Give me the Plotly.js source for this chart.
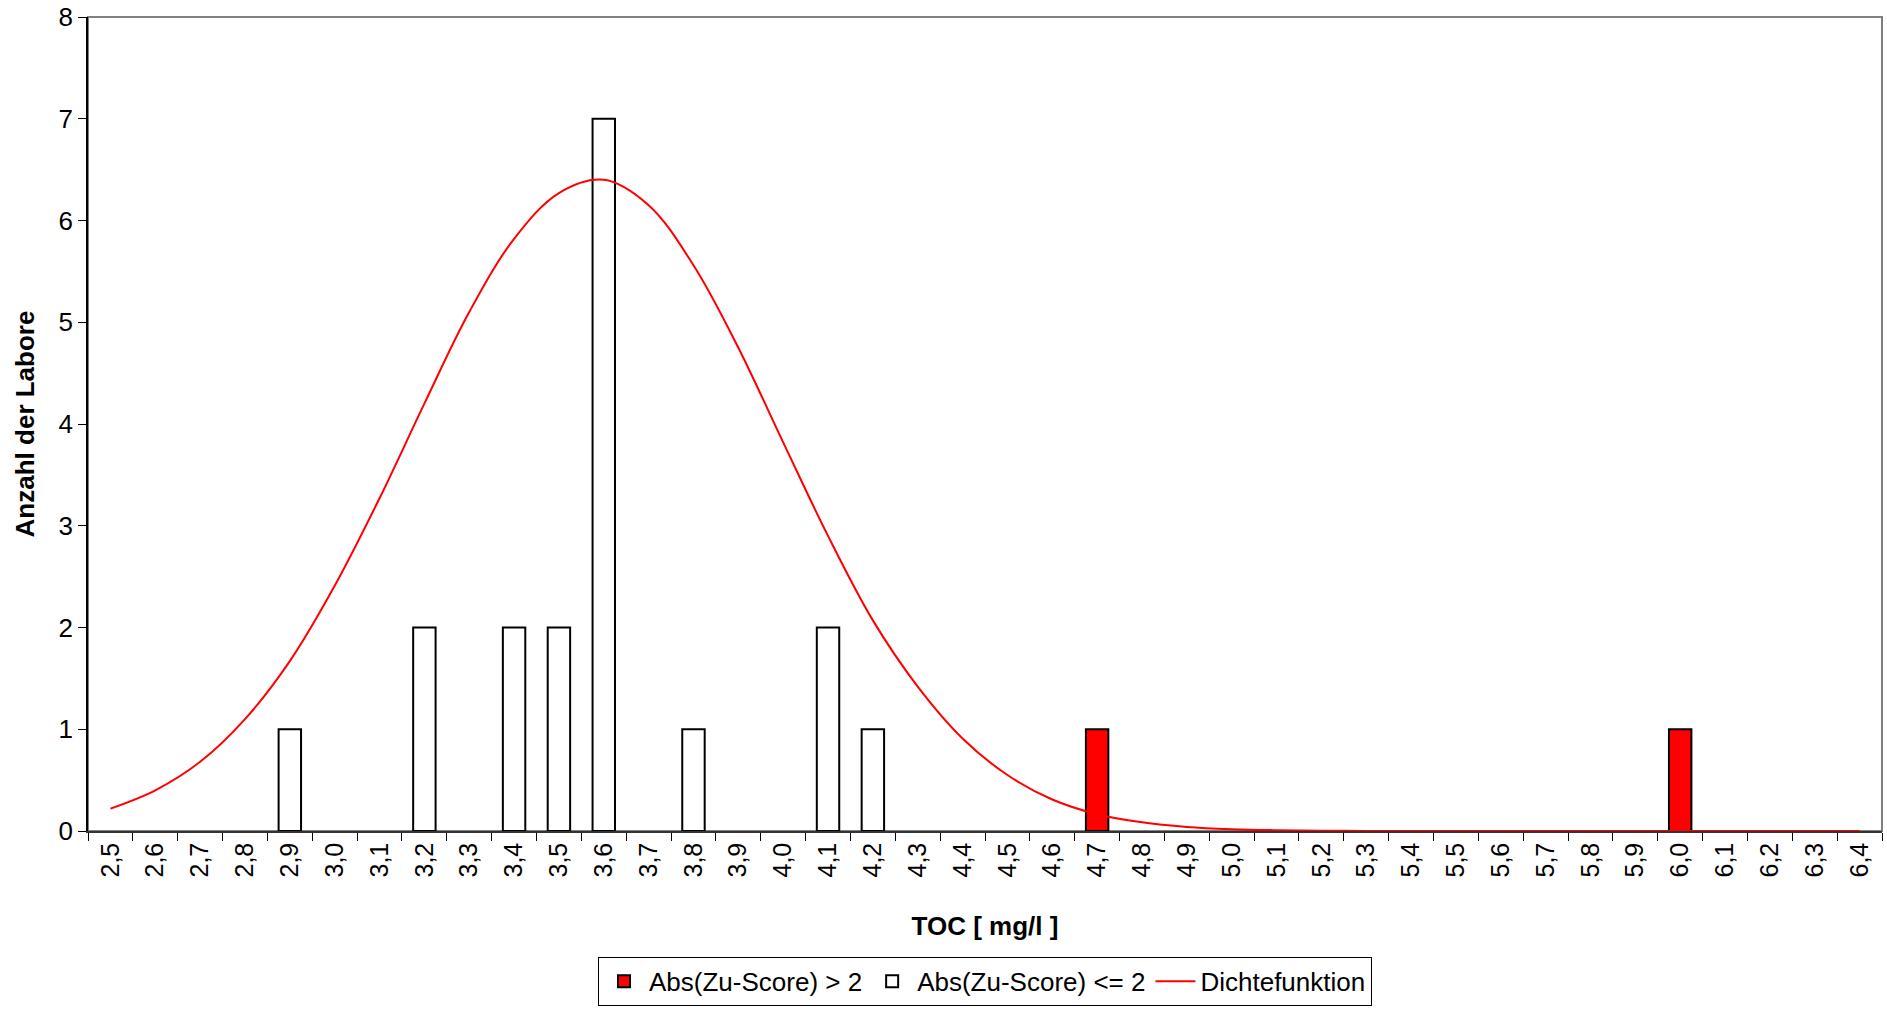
<!DOCTYPE html>
<html>
<head>
<meta charset="utf-8">
<script src="https://cdn.plot.ly/plotly-3.0.1.min.js"></script>
<style>
html,body{margin:0;padding:0;background:#fff;}
#chart{width:1887px;height:1011px;}
</style>
</head>
<body>
<div id="chart"></div>
<script>
const categories = ['2,5','2,6','2,7','2,8','2,9','3,0','3,1','3,2','3,3','3,4',
                    '3,5','3,6','3,7','3,8','3,9','4,0','4,1','4,2','4,3','4,4',
                    '4,5','4,6','4,7','4,8','4,9','5,0','5,1','5,2','5,3','5,4',
                    '5,5','5,6','5,7','5,8','5,9','6,0','6,1','6,2','6,3','6,4'];

const outsideCategories = ['4,7','6,0'];
const outsideCounts = [1, 1];

const withinCategories = ['2,9','3,2','3,4','3,5','3,6','3,8','4,1','4,2'];
const withinCounts = [1, 2, 2, 2, 7, 1, 2, 1];

const densityValues = [0.22, 0.40, 0.68, 1.10, 1.67, 2.41, 3.27, 4.20, 5.10, 5.82,
                       6.27, 6.40, 6.15, 5.56, 4.75, 3.82, 2.90, 2.07, 1.42, 0.91,
                       0.55, 0.31, 0.165, 0.085, 0.04, 0.018, 0.008, 0.003, 0.001, 0,
                       0, 0, 0, 0, 0, 0, 0, 0, 0, 0];

const seriesNames = ['Abs(Zu-Score) > 2', 'Abs(Zu-Score) <= 2', 'Dichtefunktion'];
const xTitle = 'TOC [ mg/l ]';
const yTitle = 'Anzahl der Labore';

const FONT = 'Liberation Sans, Arial, Helvetica, sans-serif';

const traces = [
  {
    type: 'bar', x: outsideCategories, y: outsideCounts, name: seriesNames[0],
    width: 0.5,
    marker: {color: '#FF0000', line: {color: '#000000', width: 2}},
    hoverinfo: 'x+y'
  },
  {
    type: 'bar', x: withinCategories, y: withinCounts, name: seriesNames[1],
    width: 0.5,
    marker: {color: '#FFFFFF', line: {color: '#000000', width: 2}},
    hoverinfo: 'x+y'
  },
  {
    type: 'scatter', mode: 'lines', x: categories, y: densityValues, name: seriesNames[2],
    line: {color: '#FF0000', width: 2, shape: 'spline', smoothing: 1},
    hoverinfo: 'x+y'
  }
];

const layout = {
  width: 1887, height: 1011,
  margin: {l: 88, r: 5, t: 17, b: 170},
  paper_bgcolor: '#FFFFFF', plot_bgcolor: '#FFFFFF',
  font: {family: FONT, size: 25, color: '#000000'},
  barmode: 'overlay',
  showlegend: true,
  xaxis: {
    type: 'category', categoryorder: 'array', categoryarray: categories,
    range: [-0.5, 39.5], tickson: 'boundaries',
    ticks: 'outside', ticklen: 8, tickcolor: '#000000', tickwidth: 1,
    tickangle: -90, tickfont: {size: 25},
    showline: true, linecolor: '#333333', linewidth: 1.5,
    showgrid: false, zeroline: false,
    title: {text: '<b>' + xTitle + '</b>', font: {size: 26}, standoff: 40}
  },
  xaxis2: {
    overlaying: 'x', anchor: 'y', side: 'bottom',
    range: [-0.5, 39.5], tick0: -0.5, dtick: 1,
    ticks: 'inside', ticklen: 8, tickcolor: '#000000', tickwidth: 1,
    showticklabels: false, showline: false, showgrid: false, zeroline: false
  },
  yaxis: {
    range: [0, 8], dtick: 1, tick0: 0,
    ticks: 'outside', ticklen: 8, tickcolor: '#000000', tickwidth: 1,
    tickfont: {size: 26},
    showline: true, linecolor: '#000000', linewidth: 1.5,
    showgrid: false, zeroline: false,
    title: {text: '<b>' + yTitle + '</b>', font: {size: 26}, standoff: 16}
  },
  yaxis2: {
    overlaying: 'y', side: 'right', anchor: 'x',
    range: [0, 6], dtick: 1, tick0: 0,
    ticks: 'outside', ticklen: 6, tickcolor: '#000000', tickwidth: 1,
    showticklabels: false, showline: true, linecolor: '#000000', linewidth: 1.5,
    showgrid: false, zeroline: false
  },
  yaxis3: {
    overlaying: 'y', side: 'left', anchor: 'x',
    range: [0, 8], dtick: 1, tick0: 0,
    ticks: 'inside', ticklen: 8, tickcolor: '#000000', tickwidth: 1,
    showticklabels: false, showline: false, showgrid: false, zeroline: false
  },
  yaxis4: {
    overlaying: 'y', side: 'right', anchor: 'x',
    range: [0, 6], dtick: 1, tick0: 0,
    ticks: 'inside', ticklen: 8, tickcolor: '#000000', tickwidth: 1,
    showticklabels: false, showline: false, showgrid: false, zeroline: false
  },
  shapes: [{
    type: 'rect', xref: 'paper', yref: 'paper', x0: 0, x1: 1, y0: 0, y1: 1,
    line: {color: '#808080', width: 2}, fillcolor: 'rgba(0,0,0,0)', layer: 'below'
  }],
  legend: {
    orientation: 'h', x: 0.5, xanchor: 'center', y: -0.1545, yanchor: 'top',
    bordercolor: '#000000', borderwidth: 1, bgcolor: '#FFFFFF',
    font: {size: 26}, traceorder: 'normal', itemwidth: 40
  }
};

Plotly.newPlot('chart', traces, layout, {displayModeBar: false, responsive: false});
</script>
</body>
</html>
